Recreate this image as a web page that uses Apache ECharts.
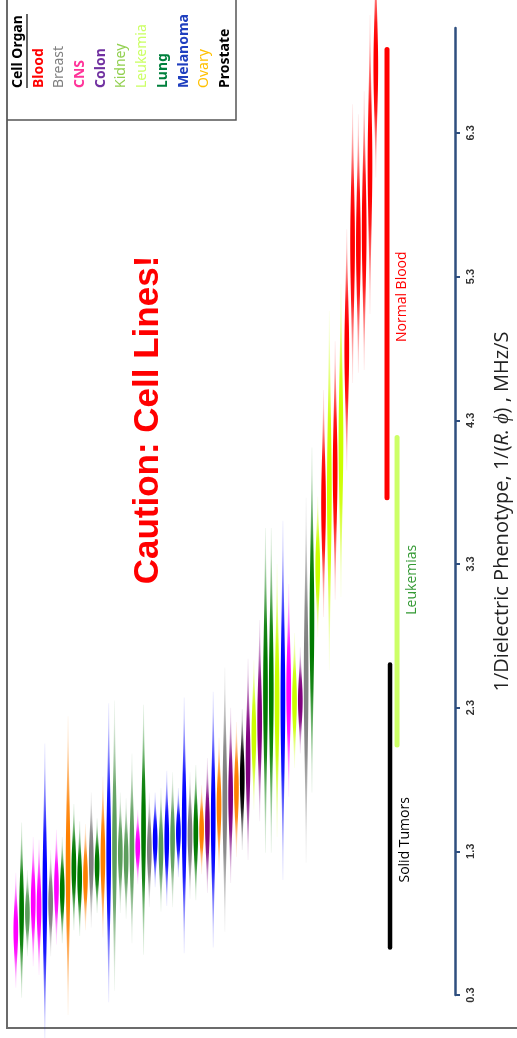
<!DOCTYPE html>
<html>
<head>
<meta charset="utf-8">
<script src="https://cdn.jsdelivr.net/npm/echarts@6/dist/echarts.min.js"></script>
<style>
  html, body { margin: 0; padding: 0; background: #ffffff; }
  #main { width: 517px; height: 1038px; }
</style>
</head>
<body>
<div id="main"></div>
<script>
// Organ of origin for each cell line, ordered by increasing 1/(R.phi)
const LINE_ORGAN = [
  'CNS','Lung','Kidney','CNS','CNS','Melanoma','Breast','CNS','Lung','Ovary',
  'Lung','Lung','Ovary','Breast','Lung','Ovary','Melanoma','Kidney','Kidney','Kidney',
  'Kidney','CNS','Lung','Breast','Melanoma','Kidney','Melanoma','Kidney','Melanoma','Melanoma',
  'Breast','Lung','Ovary','Colon','Melanoma','Ovary','Breast','Colon','Ovary','Prostate',
  'Colon','Leukemia','Colon','Lung','Lung','Leukemia','Melanoma','CNS','Leukemia','Colon',
  'Breast','Lung','Leukemia','Blood','Leukemia','Blood','Leukemia','Blood','Blood','Blood',
  'Blood','Blood','Blood'
];
// Centre of each distribution, MHz/S
const LINE_CENTER = [
  0.75,0.89,0.87,0.95,0.91,1.01,0.94,1.05,1.03,1.20,
  1.19,1.11,1.12,1.24,1.20,1.26,1.29,1.34,1.29,1.25,
  1.32,1.33,1.45,1.31,1.38,1.31,1.39,1.38,1.43,1.48,
  1.41,1.43,1.45,1.48,1.52,1.62,1.66,1.69,1.73,1.80,
  1.94,2.11,2.21,2.42,2.42,2.35,2.35,2.42,2.35,2.35,
  2.49,2.91,3.28,3.72,3.81,3.95,4.16,4.79,5.53,5.53,
  5.62,6.08,6.76
];
// Half-length of each distribution including its tails, MHz/S
const LINE_SPREAD = [
  0.40,0.61,0.30,0.45,0.47,1.04,0.37,0.40,0.37,1.04,
  0.44,0.40,0.37,0.47,0.33,0.56,1.04,1.01,0.42,0.42,
  0.66,0.26,0.87,0.40,0.33,0.43,0.47,0.47,0.31,0.89,
  0.44,0.47,0.31,0.47,0.89,0.47,0.92,0.61,0.47,0.49,
  0.70,0.52,0.70,1.13,1.13,0.95,1.25,0.74,0.47,0.37,
  1.27,1.20,0.49,0.79,1.25,0.90,1.09,0.84,0.97,0.90,
  0.97,1.04,0.77
];

// Legend entries
const ORGANS = ['Blood','Breast','CNS','Colon','Kidney','Leukemia','Lung','Melanoma','Ovary','Prostate'];

// Summary ranges
const RANGE_NAMES = ['Solid Tumors', 'Leukemias', 'Normal Blood'];
const RANGE_LOW   = [0.63, 2.04, 3.76];
const RANGE_HIGH  = [2.60, 4.18, 6.88];
const RANGE_LABEL_AT = [1.38, 3.19, 5.16];

// Axis ticks
const TICKS = [0.3, 1.3, 2.3, 3.3, 4.3, 5.3, 6.3];

// ---- styling ----
const SPINDLE_COLOR = {
  Blood: '#ff0000', Breast: '#808080', CNS: '#ff00ff', Colon: '#800080',
  Kidney: '#5c9e5c', Leukemia: '#ccff00', Lung: '#007a00', Melanoma: '#0000ff',
  Ovary: '#ff8000', Prostate: '#000000'
};
const LEGEND_COLOR = {
  Blood: '#ff0000', Breast: '#7f7f7f', CNS: '#ff3399', Colon: '#7030a0',
  Kidney: '#92d050', Leukemia: '#ccff66', Lung: '#00803c', Melanoma: '#1f3fbf',
  Ovary: '#ffc000', Prostate: '#000000'
};
const LEGEND_BOLD = {
  Blood: true, Breast: false, CNS: true, Colon: true, Kidney: false,
  Leukemia: false, Lung: true, Melanoma: true, Ovary: false, Prostate: true
};
const RANGE_STYLE = [
  { x: 64.45, color: '#000000', width: 4.5, label: '#000000' },
  { x: 65.66, color: '#ccff66', width: 5, label: '#339933' },
  { x: 63.93, color: '#ff0000', width: 5, label: '#ff0000' }
];

function rgba(hex, a) {
  const n = parseInt(hex.slice(1), 16);
  return 'rgba(' + ((n >> 16) & 255) + ',' + ((n >> 8) & 255) + ',' + (n & 255) + ',' + a + ')';
}

const spindleData = LINE_ORGAN.map((o, i) => [i, LINE_CENTER[i], LINE_SPREAD[i], ORGANS.indexOf(o)]);
const rangeData = RANGE_NAMES.map((n, i) => [i, RANGE_LOW[i], RANGE_HIGH[i], RANGE_LABEL_AT[i]]);

// Each cell line is a spindle: a bell-shaped profile along the value axis, fading at its tails
function renderSpindle(params, api) {
  const idx = api.value(0), mu = api.value(1), s = api.value(2);
  const color = SPINDLE_COLOR[ORGANS[api.value(3)]];
  const W = 2.0, K = 2.5, N = 40;
  const left = [], right = [];
  for (let k = 0; k <= N; k++) {
    const t = -1 + 2 * k / N;
    const p = api.coord([idx, mu + t * s]);
    const hw = W * Math.exp(-(K * t) * (K * t) / 2) + 0.35;
    left.push([p[0] - hw, p[1]]);
    right.push([p[0] + hw, p[1]]);
  }
  const pts = left.concat(right.reverse());
  const stops = [
    [0, 0.06], [0.08, 0.2], [0.18, 0.5], [0.3, 0.9], [0.4, 1], [0.6, 1], [0.7, 0.9], [0.82, 0.5], [0.92, 0.2], [1, 0.06]
  ].map(([o, a]) => ({ offset: o, color: rgba(color, a) }));
  return {
    type: 'polygon',
    shape: { points: pts },
    style: { fill: new echarts.graphic.LinearGradient(0, 0, 0, 1, stops) }
  };
}

function renderRange(params, api) {
  const i = api.value(0);
  const st = RANGE_STYLE[i];
  const a = api.coord([st.x, api.value(1)]);
  const b = api.coord([st.x, api.value(2)]);
  const l = api.coord([st.x, api.value(3)]);
  return {
    type: 'group',
    children: [
      {
        type: 'line',
        shape: { x1: a[0], y1: a[1], x2: b[0], y2: b[1] },
        style: { stroke: st.color, lineWidth: st.width, lineCap: 'round' }
      },
      {
        type: 'text',
        x: l[0] + 15, y: l[1], rotation: Math.PI / 2,
        style: {
          text: RANGE_NAMES[i], fill: st.label,
          font: '14px "Open Sans"', align: 'center', verticalAlign: 'middle'
        }
      }
    ]
  };
}

// Legend drawn as rotated columns inside a framed box
const legendGraphics = [];
const LEG_X0 = 18, LEG_DX = 20.7, LEG_BASE = 88;
legendGraphics.push({
  type: 'text', x: LEG_X0, y: LEG_BASE, rotation: Math.PI / 2,
  style: { text: 'Cell Organ', fill: '#000', font: 'bold 14px "Noto Sans"', align: 'left', verticalAlign: 'middle' }
});
ORGANS.forEach((o, i) => {
  legendGraphics.push({
    type: 'text', x: LEG_X0 + LEG_DX * (i + 1), y: LEG_BASE, rotation: Math.PI / 2,
    style: {
      text: o, fill: LEGEND_COLOR[o],
      font: (LEGEND_BOLD[o] ? 'bold ' : '') + '14px "Noto Sans"', align: 'left', verticalAlign: 'middle'
    }
  });
});

const chart = echarts.init(document.getElementById('main'));
chart.setOption({
  animation: false,
  backgroundColor: '#ffffff',
  grid: { left: 10, right: 62, top: 28, bottom: 43, outerBoundsMode: 'none', containLabel: false },
  xAxis: { type: 'value', min: -1, max: 75.64, show: false },
  yAxis: {
    type: 'value', position: 'right', min: 0.3, max: 7.03,
    axisLine: { show: true, onZero: false, lineStyle: { color: '#2f4f7f', width: 2.5 } },
    axisTick: { show: true, customValues: TICKS, length: 5, lineStyle: { color: '#2f4f7f', width: 2 } },
    axisLabel: {
      customValues: TICKS, rotate: 90, margin: 10,
      formatter: v => v.toFixed(1),
      color: '#333', fontWeight: 'bold', fontSize: 11, fontFamily: 'Liberation Sans'
    },
    splitLine: { show: false },
    name: '1/Dielectric Phenotype, 1/({i|R. ϕ}) , MHz/S',
    nameLocation: 'middle', nameRotate: 90, nameGap: 37,
    nameTextStyle: {
      fontSize: 20, color: '#222', fontFamily: 'Open Sans',
      rich: { i: { fontSize: 20, fontStyle: 'italic', fontFamily: 'Open Sans', color: '#222' } }
    }
  },
  graphic: [
    // plot frame
    { type: 'polyline', shape: { points: [[7, -5], [7, 1028], [525, 1028]] }, style: { stroke: '#6b6b6b', lineWidth: 2, fill: null } },
    // legend frame
    { type: 'polyline', shape: { points: [[7, 120], [236, 120], [236, -5]] }, style: { stroke: '#555', lineWidth: 1.5, fill: null } },
    // underline of the legend title
    { type: 'line', shape: { x1: 27, y1: 88, x2: 27, y2: 14 }, style: { stroke: '#000', lineWidth: 1.2 } },
    {
      type: 'text', x: 148, y: 420, rotation: Math.PI / 2,
      style: { text: 'Caution: Cell Lines!', fill: '#ff0000', font: 'bold 35px "Liberation Sans"', align: 'center', verticalAlign: 'middle' }
    }
  ].concat(legendGraphics),
  series: [
    { type: 'custom', renderItem: renderSpindle, data: spindleData, clip: false },
    { type: 'custom', renderItem: renderRange, data: rangeData, clip: false }
  ]
});
</script>
</body>
</html>
